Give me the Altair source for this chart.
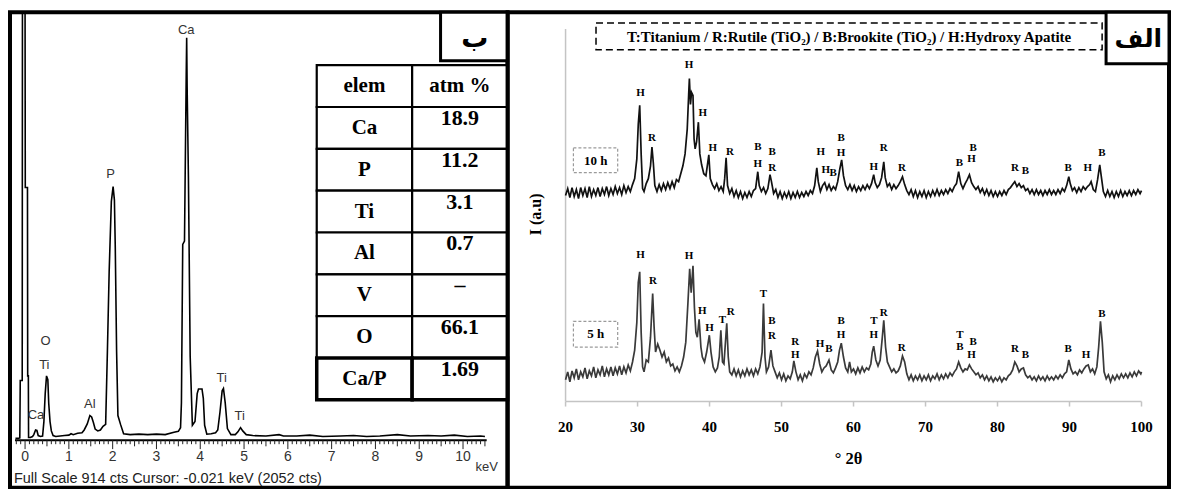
import altair as alt
import pandas as pd

# ---------------- EDS spectrum (panel ب) ----------------
eds_kev = [-0.22, -0.16, -0.12, -0.11, -0.065, -0.06, 0.0, 0.005, 0.055, 0.06, 0.075, 0.08,
           0.12, 0.17, 0.2, 0.24, 0.27, 0.3, 0.35, 0.4, 0.43, 0.46, 0.49, 0.52, 0.54, 0.57, 0.6, 0.64,
           0.7, 0.8, 0.9, 1.0, 1.05, 1.1, 1.2, 1.3, 1.35, 1.42, 1.48, 1.52, 1.56, 1.6, 1.66, 1.72, 1.78,
           1.84, 1.88, 1.92, 1.97, 2.01, 2.04, 2.06, 2.09, 2.12, 2.18, 2.25, 2.4, 2.6, 2.8, 3.0, 3.2,
           3.4, 3.5, 3.55, 3.57, 3.6, 3.64, 3.68, 3.69, 3.70, 3.73, 3.77, 3.82, 3.88, 3.93, 3.96, 4.04,
           4.07, 4.1, 4.15, 4.25, 4.35, 4.4, 4.45, 4.5, 4.53, 4.57, 4.62, 4.7, 4.8, 4.86, 4.92, 4.97,
           5.05, 5.2, 5.5, 5.8, 5.9, 6.2, 6.5, 6.8, 7.2, 7.5, 7.8, 8.1, 8.5, 8.8, 9.2, 9.5, 9.8, 10.1, 10.4, 10.5]
eds_cts = [4, 4, 5, 128, 128, 2052, 2052, 542, 542, 138, 138, 6,
           6, 8, 12, 22, 21, 10, 8, 9, 40, 100, 138, 130, 80, 40, 20, 10,
           8, 9, 10, 11, 14, 12, 15, 16, 22, 35, 53, 50, 38, 24, 20, 22, 30,
           34, 191, 361, 512, 544, 515, 412, 191, 53, 34, 14, 12, 13, 12, 13, 12,
           17, 19, 27, 80, 420, 427, 787, 863, 760, 563, 180, 32, 40, 100, 110, 110,
           90, 32, 13, 14, 16, 22, 60, 106, 111, 80, 25, 12, 12, 18, 27, 20,
           12, 10, 9, 12, 9, 9, 11, 8, 9, 10, 8, 9, 12, 9, 10, 9, 11, 8, 9, 8]

eds_major_ticks = [0, 1, 2, 3, 4, 5, 6, 7, 8, 9, 10]
eds_peak_text = ["Ca", "P", "O", "Ti", "Ca", "Al", "Ti", "Ti"]
eds_peak_kev = [3.68, 1.95, 0.47, 0.44, 0.25, 1.48, 4.49, 4.90]
eds_peak_cts = [880, 570, 213, 162, 55, 77, 134, 51]
eds_footer = "Full Scale 914 cts  Cursor: -0.021 keV (2052 cts)"

# ---------------- composition table ----------------
table_head = ["elem", "atm %"]
table_elem = ["Ca", "P", "Ti", "Al", "V", "O", "Ca/P"]
table_atm = ["18.9", "11.2", "3.1", "0.7", "–", "66.1", "1.69"]

# ---------------- XRD patterns (panel الف) ----------------
theta_10h = [20.0, 20.3, 20.6, 20.9, 21.2, 21.5, 21.8, 22.1, 22.4, 22.7, 23.0, 23.3, 23.6, 23.9, 24.2, 24.5, 24.8, 25.1, 25.4, 25.7,
             26.0, 26.3, 26.6, 26.9, 27.2, 27.5, 27.8, 28.1, 28.4, 28.7, 29.0, 29.3, 29.6, 29.9, 30.1, 30.3, 30.5, 30.7, 30.9, 31.2,
             31.5, 31.8, 32.0, 32.2, 32.4, 32.7, 33.0, 33.3, 33.6, 33.9, 34.2, 34.5, 34.8, 35.1, 35.4, 35.7, 36.0, 36.3, 36.6, 36.9,
             37.1, 37.2, 37.35, 37.5, 37.7, 37.85, 38.0, 38.2, 38.45, 38.65, 38.9, 39.2, 39.5, 39.9, 40.1, 40.4, 40.7, 41.0, 41.3, 41.6,
             41.9, 42.1, 42.3, 42.5, 42.8, 43.1, 43.4, 43.7, 44.0, 44.3, 44.6, 44.9, 45.2, 45.5, 45.8, 46.1, 46.4, 46.7, 46.9, 47.2,
             47.5, 47.8, 48.1, 48.4, 48.6, 48.9, 49.2, 49.5, 49.8, 50.1, 50.4, 50.7, 51.0, 51.3, 51.6, 51.9, 52.2, 52.5, 52.8, 53.1,
             53.4, 53.7, 54.0, 54.3, 54.6, 54.9, 55.1, 55.4, 55.7, 56.0, 56.3, 56.6, 56.9, 57.2, 57.5, 57.8, 58.1, 58.35, 58.6, 58.9,
             59.2, 59.5, 59.8, 60.1, 60.4, 60.7, 61.0, 61.3, 61.6, 61.9, 62.2, 62.5, 62.8, 63.0, 63.3, 63.6, 63.9, 64.2, 64.4, 64.7,
             65.0, 65.3, 65.6, 65.9, 66.2, 66.5, 66.8, 67.1, 67.4, 67.7, 68.0, 68.3, 68.6, 68.9, 69.2, 69.5, 69.8, 70.1, 70.4, 70.7,
             71.0, 71.3, 71.6, 71.9, 72.2, 72.5, 72.8, 73.1, 73.4, 73.7, 74.0, 74.3, 74.6, 74.9, 75.2, 75.5, 75.8, 76.1, 76.4, 76.7,
             77.0, 77.3, 77.6, 77.9, 78.2, 78.5, 78.8, 79.1, 79.4, 79.7, 80.0, 80.3, 80.6, 80.9, 81.2, 81.5, 81.8, 82.1, 82.4, 82.7,
             83.0, 83.3, 83.6, 83.9, 84.2, 84.5, 84.8, 85.1, 85.4, 85.7, 86.0, 86.3, 86.6, 86.9, 87.2, 87.5, 87.8, 88.1, 88.4, 88.7,
             89.0, 89.3, 89.6, 89.9, 90.1, 90.4, 90.7, 91.0, 91.3, 91.6, 91.9, 92.2, 92.5, 92.8, 93.0, 93.3, 93.6, 93.9, 94.2, 94.4,
             94.7, 95.0, 95.3, 95.6, 95.9, 96.2, 96.5, 96.8, 97.1, 97.4, 97.7, 98.0, 98.3, 98.6, 98.9, 99.2, 99.5, 99.8, 100.0]
int_10h = [208, 215, 206, 216, 207, 214, 205, 216, 208, 215, 206, 217, 207, 214, 208, 216, 207, 215, 209, 217,
           208, 215, 209, 217, 210, 216, 209, 218, 211, 217, 212, 219, 225, 245, 280, 299, 250, 215, 212, 220,
           225, 238, 257, 240, 218, 212, 219, 213, 220, 214, 221, 215, 222, 216, 224, 222, 230, 238, 250, 275,
           310, 326, 300, 312, 309, 265, 255, 262, 282, 250, 239, 230, 228, 249, 225, 219, 215, 220, 213, 217,
           212, 225, 246, 218, 210, 215, 207, 213, 206, 212, 205, 211, 206, 212, 207, 213, 215, 232, 218, 212,
           216, 210, 215, 229, 222, 210, 214, 206, 212, 205, 211, 206, 212, 205, 211, 206, 212, 206, 211, 207,
           212, 208, 213, 210, 218, 236, 222, 212, 218, 221, 214, 219, 213, 217, 214, 222, 235, 244, 228, 218,
           214, 219, 213, 218, 212, 217, 213, 218, 214, 219, 215, 220, 229, 221, 216, 219, 226, 242, 226, 217,
           220, 214, 219, 215, 218, 222, 227, 219, 213, 209, 214, 207, 213, 206, 212, 207, 213, 206, 212, 207,
           213, 208, 214, 208, 213, 209, 214, 210, 215, 212, 217, 220, 232, 220, 215, 220, 224, 229, 221, 217,
           214, 217, 211, 215, 209, 214, 208, 213, 207, 212, 207, 212, 208, 213, 209, 214, 216, 219, 222, 217,
           220, 216, 218, 213, 215, 210, 214, 209, 214, 209, 213, 208, 213, 209, 214, 209, 213, 209, 214, 210,
           215, 212, 218, 227, 220, 213, 216, 211, 216, 212, 217, 214, 217, 219, 222, 214, 212, 224, 239, 228,
           212, 207, 213, 207, 212, 206, 212, 207, 213, 207, 212, 208, 213, 208, 213, 209, 214, 210, 213]

theta_5h = [20.0, 20.3, 20.6, 20.9, 21.2, 21.5, 21.8, 22.1, 22.4, 22.7, 23.0, 23.3, 23.6, 23.9, 24.2, 24.5, 24.8, 25.1, 25.4, 25.7,
            26.0, 26.3, 26.6, 26.9, 27.2, 27.5, 27.8, 28.1, 28.4, 28.7, 29.0, 29.3, 29.6, 29.9, 30.1, 30.3, 30.5, 30.7, 30.9, 31.2,
            31.5, 31.8, 32.1, 32.3, 32.5, 32.8, 33.1, 33.4, 33.7, 34.0, 34.3, 34.6, 34.9, 35.2, 35.5, 35.8, 36.1, 36.4, 36.7, 37.0,
            37.24, 37.45, 37.7, 37.9, 38.1, 38.3, 38.55, 38.8, 39.0, 39.3, 39.6, 39.97, 40.2, 40.5, 40.8, 41.1, 41.35, 41.57, 41.8, 42.0,
            42.39, 42.6, 42.8, 43.1, 43.4, 43.7, 44.0, 44.3, 44.6, 44.9, 45.2, 45.5, 45.8, 46.1, 46.4, 46.7, 47.0, 47.3, 47.49, 47.7,
            47.9, 48.2, 48.53, 48.8, 49.1, 49.4, 49.7, 50.0, 50.3, 50.6, 50.9, 51.2, 51.5, 51.71, 52.0, 52.3, 52.6, 52.9, 53.2, 53.5,
            53.8, 54.1, 54.4, 54.7, 55.0, 55.3, 55.6, 55.9, 56.2, 56.59, 56.9, 57.2, 57.5, 57.8, 58.05, 58.3, 58.6, 58.9, 59.2, 59.45,
            59.7, 60.0, 60.3, 60.6, 60.9, 61.2, 61.5, 61.8, 62.1, 62.4, 62.6, 62.8, 63.1, 63.4, 63.7, 64.0, 64.2, 64.45, 64.7, 65.0,
            65.3, 65.6, 65.9, 66.2, 66.5, 66.8, 67.1, 67.4, 67.7, 68.0, 68.3, 68.6, 68.9, 69.2, 69.5, 69.8, 70.1, 70.4, 70.7, 71.0,
            71.3, 71.6, 71.9, 72.2, 72.5, 72.8, 73.1, 73.4, 73.7, 74.0, 74.3, 74.6, 74.9, 75.2, 75.5, 75.8, 76.1, 76.4, 76.7, 77.0,
            77.3, 77.6, 77.9, 78.2, 78.5, 78.8, 79.1, 79.4, 79.7, 80.0, 80.3, 80.6, 80.9, 81.2, 81.5, 81.8, 82.1, 82.4, 82.7, 83.0,
            83.3, 83.6, 83.9, 84.2, 84.5, 84.8, 85.1, 85.4, 85.7, 86.0, 86.3, 86.6, 86.9, 87.2, 87.5, 87.8, 88.1, 88.4, 88.7, 89.0,
            89.3, 89.6, 89.9, 90.2, 90.5, 90.8, 91.1, 91.4, 91.7, 92.0, 92.3, 92.6, 92.9, 93.2, 93.5, 93.8, 94.05, 94.3, 94.55, 94.8,
            95.1, 95.4, 95.7, 96.0, 96.3, 96.6, 96.9, 97.2, 97.5, 97.8, 98.1, 98.4, 98.7, 99.0, 99.3, 99.6, 99.9, 100.0]
int_5h = [22, 30, 20, 31, 24, 33, 22, 30, 25, 34, 23, 31, 26, 35, 24, 32, 27, 36, 25, 33,
          27, 35, 26, 34, 28, 36, 27, 35, 29, 37, 31, 40, 52, 80, 120, 131, 70, 35, 30, 42,
          40, 65, 109, 75, 50, 58, 52, 45, 50, 40, 44, 36, 38, 31, 35, 30, 36, 45, 60, 100,
          134, 110, 137, 95, 70, 65, 83, 55, 45, 40, 50, 67, 50, 35, 30, 34, 45, 72, 40, 38,
          79, 45, 30, 27, 33, 26, 32, 25, 31, 26, 33, 27, 32, 26, 33, 28, 35, 50, 99, 45,
          30, 35, 52, 36, 30, 24, 29, 22, 28, 21, 26, 23, 30, 41, 30, 22, 27, 21, 28, 24,
          30, 27, 34, 45, 51, 38, 30, 34, 36, 42, 32, 29, 34, 40, 52, 59, 45, 34, 30, 40,
          30, 33, 28, 34, 29, 35, 30, 34, 32, 38, 50, 56, 42, 36, 42, 65, 82, 55, 40, 35,
          30, 33, 29, 31, 36, 46, 40, 28, 22, 27, 21, 26, 22, 27, 21, 26, 22, 27, 21, 26,
          23, 28, 22, 27, 23, 28, 24, 29, 26, 30, 33, 40, 34, 30, 33, 32, 37, 33, 30, 27,
          29, 24, 27, 22, 26, 21, 25, 20, 24, 21, 25, 20, 24, 22, 26, 28, 32, 40, 36, 30,
          33, 34, 27, 24, 26, 22, 25, 21, 26, 22, 25, 21, 26, 22, 25, 22, 26, 23, 27, 24,
          28, 30, 42, 33, 28, 30, 27, 32, 29, 33, 36, 37, 30, 33, 28, 35, 55, 81, 60, 30,
          23, 27, 20, 26, 22, 27, 23, 28, 24, 28, 24, 29, 25, 30, 26, 31, 28, 30]

lab10_txt = ["H", "R", "H", "H", "H", "R", "B", "H", "B", "R", "H", "H", "B", "B", "H", "H", "R", "R", "B", "B", "H", "R", "B", "B", "H", "B"]
lab10_t = [30.42, 32.01, 37.16, 39.07, 40.43, 42.85, 46.71, 46.71, 48.71, 48.71, 55.45, 56.13, 57.17, 58.27, 58.27, 62.82, 64.19, 66.73, 74.70, 76.6, 76.4, 82.43, 83.89, 89.80, 92.53, 94.49]
lab10_i = [311, 266, 340, 291, 256, 252, 257, 240, 252, 236, 252, 234, 231, 266, 251, 237, 256, 236, 241, 256, 245, 236, 233, 236, 236, 251]

lab5_txt = ["H", "R", "H", "H", "H", "T", "R", "T", "B", "R", "R", "H", "H", "B", "B", "H", "T", "H", "R", "R", "T", "B", "B", "H", "R", "B", "B", "H", "B"]
lab5_t = [30.42, 32.15, 37.16, 38.98, 39.98, 41.80, 42.94, 47.49, 48.67, 48.67, 51.90, 51.90, 55.36, 56.59, 58.27, 58.27, 62.82, 62.82, 64.19, 66.69, 74.79, 74.79, 76.6, 76.4, 82.43, 83.89, 89.80, 92.31, 94.49]
lab5_i = [148, 122, 147, 91, 74, 82, 90, 109, 81, 66, 60, 47, 58, 53, 81, 67, 81, 67, 89, 54, 67, 55, 60, 47, 53, 47, 53, 47, 88]

xrd_ticks = [20, 30, 40, 50, 60, 70, 80, 90, 100]
legend_text = "T:Titanium / R:Rutile (TiO\u2082) / B:Brookite (TiO\u2082) / H:Hydroxy Apatite"
series_names = ["10 h", "5 h"]

# ---------------- styling ----------------
SERIF = "Liberation Serif"
SANS = "Liberation Sans"
ARABIC = "DejaVu Sans"
W1, W2, H = 498, 662, 476

# ================= LEFT PANEL : EDS =================
kx = alt.Scale(domain=[-0.344, 11.017], nice=False, zero=False)
ky = alt.Scale(domain=[-102, 918], nice=False, zero=False, clamp=True)
X = lambda f: alt.X(f, scale=kx, axis=None)
Y = lambda f: alt.Y(f, scale=ky, axis=None)

eds_df = pd.DataFrame({"kev": eds_kev, "cts": eds_cts})
spectrum = alt.Chart(eds_df).mark_line(color="black", strokeWidth=1.6, clip=True).encode(
    x=X("kev:Q"), y=Y("cts:Q"))

axis_line = alt.Chart(pd.DataFrame({"a": [-0.23], "b": [10.54], "y": [0]})).mark_rule(
    color="black", strokeWidth=2).encode(x=X("a:Q"), x2="b:Q", y=Y("y:Q"))

minor = [round(-0.2 + 0.1 * i, 1) for i in range(108)]
tick_df = pd.DataFrame({"x": minor,
                        "y2": [-19 if abs(v - round(v)) < 1e-6 else (-13 if abs(v * 2 - round(v * 2)) < 1e-6 else -8.5) for v in minor],
                        "y": [0] * len(minor)})
ticks = alt.Chart(tick_df).mark_rule(color="#222", strokeWidth=1).encode(
    x=X("x:Q"), y=Y("y:Q"), y2="y2:Q")

tick_lab = alt.Chart(pd.DataFrame({"x": eds_major_ticks, "y": [-36] * len(eds_major_ticks)})).mark_text(
    font=SANS, fontSize=14, color="#333").encode(x=X("x:Q"), y=Y("y:Q"), text="x:Q")

kev_lab = alt.Chart(pd.DataFrame({"x": [10.54], "y": [-57], "t": ["keV"]})).mark_text(
    font=SANS, fontSize=13, color="#333").encode(x=X("x:Q"), y=Y("y:Q"), text="t:N")

footer = alt.Chart(pd.DataFrame({"x": [-0.254], "y": [-83], "t": [eds_footer]})).mark_text(
    font=SANS, fontSize=14.5, color="#222", align="left").encode(x=X("x:Q"), y=Y("y:Q"), text="t:N")

peak_lab = alt.Chart(pd.DataFrame({"x": eds_peak_kev, "y": eds_peak_cts, "t": eds_peak_text})).mark_text(
    font=SANS, fontSize=13, color="#333").encode(x=X("x:Q"), y=Y("y:Q"), text="t:N")

b_box = alt.Chart(pd.DataFrame({"a": [9.487], "b": [11.017], "c": [814], "d": [918]})).mark_rect(
    fill="white", stroke="black", strokeWidth=3).encode(x=X("a:Q"), x2="b:Q", y=Y("c:Q"), y2="d:Q")
b_txt = alt.Chart(pd.DataFrame({"x": [10.27], "y": [860], "t": ["ب"]})).mark_text(
    font=ARABIC, fontSize=27, fontWeight="bold", color="black").encode(x=X("x:Q"), y=Y("y:Q"), text="t:N")

eds_group = alt.layer(spectrum, axis_line, ticks, tick_lab, kev_lab, footer, peak_lab, b_box, b_txt)

# table
row_ids = [str(i) for i in range(len(table_elem) + 1)]
cells = []
for i, (a, b) in enumerate(zip([table_head[0]] + table_elem, [table_head[1]] + table_atm)):
    kind = "head" if i == 0 else "body"
    cells.append({"row": str(i), "col": "c1", "t": a, "kind": kind, "last": i == len(table_elem)})
    cells.append({"row": str(i), "col": "c2", "t": b, "kind": kind, "last": i == len(table_elem)})
cell_df = pd.DataFrame(cells)
tx = alt.X("col:N", scale=alt.Scale(domain=["c1", "c2"], range=[307, 498], paddingInner=0, paddingOuter=0), axis=None)
ty = alt.Y("row:N", scale=alt.Scale(domain=row_ids, range=[53, 388], paddingInner=0, paddingOuter=0), axis=None)
cell_rect = alt.Chart(cell_df).mark_rect(fill="white", stroke="black").encode(
    x=tx, y=ty,
    strokeWidth=alt.condition("datum.last", alt.value(3.5), alt.value(2.2)))
head_txt = alt.Chart(cell_df).transform_filter("datum.kind == 'head'").mark_text(
    font=SERIF, fontWeight="bold", fontSize=21, color="black").encode(x=tx, y=ty, text="t:N")
elem_txt = alt.Chart(cell_df).transform_filter("datum.kind == 'body' && datum.col == 'c1'").mark_text(
    font=SERIF, fontWeight="bold", fontSize=21, color="black").encode(x=tx, y=ty, text="t:N")
val_txt = alt.Chart(cell_df).transform_filter("datum.kind == 'body' && datum.col == 'c2'").mark_text(
    font=SERIF, fontWeight="bold", fontSize=22, color="black", dy=-10).encode(x=tx, y=ty, text="t:N")
table_group = alt.layer(cell_rect, head_txt, elem_txt, val_txt)

left = alt.layer(eds_group, table_group).resolve_scale(x="independent", y="independent").properties(
    width=W1, height=H)

# ================= RIGHT PANEL : XRD =================
rx = alt.Scale(domain=[11.945, 103.82], nice=False, zero=False)
ry = alt.Scale(domain=[-87, 393], nice=False, zero=False)
XR = lambda f: alt.X(f, scale=rx, axis=None)
YR = lambda f: alt.Y(f, scale=ry, axis=None)

xrd_df = pd.concat([
    pd.DataFrame({"t": theta_10h, "i": int_10h, "s": series_names[0]}),
    pd.DataFrame({"t": theta_5h, "i": int_5h, "s": series_names[1]}),
])
xrd_lines = alt.Chart(xrd_df).mark_line(strokeWidth=1.7).encode(
    x=XR("t:Q"), y=YR("i:Q"), detail="s:N",
    color=alt.Color("s:N", scale=alt.Scale(domain=series_names, range=["#111111", "#3a3a3a"]), legend=None))

lab_df = pd.concat([
    pd.DataFrame({"t": lab10_t, "i": lab10_i, "txt": lab10_txt}),
    pd.DataFrame({"t": lab5_t, "i": lab5_i, "txt": lab5_txt}),
])
xrd_labels = alt.Chart(lab_df).mark_text(font=SERIF, fontWeight="bold", fontSize=11, color="black").encode(
    x=XR("t:Q"), y=YR("i:Q"), text="txt:N")

xaxis_line = alt.Chart(pd.DataFrame({"a": [20], "b": [100], "y": [0]})).mark_rule(
    color="#c4c4c4", strokeWidth=1.5).encode(x=XR("a:Q"), x2="b:Q", y=YR("y:Q"))
yaxis_line = alt.Chart(pd.DataFrame({"x": [20], "a": [0], "b": [376]})).mark_rule(
    color="#c4c4c4", strokeWidth=1.5).encode(x=XR("x:Q"), y=YR("a:Q"), y2="b:Q")
xr_ticks = alt.Chart(pd.DataFrame({"x": xrd_ticks, "a": [0] * 9, "b": [-5] * 9})).mark_rule(
    color="#c4c4c4", strokeWidth=1.5).encode(x=XR("x:Q"), y=YR("a:Q"), y2="b:Q")
xr_tlab = alt.Chart(pd.DataFrame({"x": xrd_ticks, "y": [-26] * 9})).mark_text(
    font=SERIF, fontWeight="bold", fontSize=15, color="black").encode(x=XR("x:Q"), y=YR("y:Q"), text="x:Q")
x_title = alt.Chart(pd.DataFrame({"x": [59.3], "y": [-58], "t": ["\u00b0 2\u03b8"]})).mark_text(
    font=SERIF, fontWeight="bold", fontSize=16.5, color="black").encode(x=XR("x:Q"), y=YR("y:Q"), text="t:N")
y_title = alt.Chart(pd.DataFrame({"x": [15.9], "y": [189], "t": ["I (a.u)"]})).mark_text(
    font=SERIF, fontWeight="bold", fontSize=16, color="black", angle=270).encode(x=XR("x:Q"), y=YR("y:Q"), text="t:N")

leg_box = alt.Chart(pd.DataFrame({"a": [24.23], "b": [94.53], "c": [355], "d": [382]})).mark_rect(
    fill="white", stroke="black", strokeWidth=1.5, strokeDash=[7, 4]).encode(x=XR("a:Q"), x2="b:Q", y=YR("c:Q"), y2="d:Q")
leg_txt = alt.Chart(pd.DataFrame({"x": [59.38], "y": [368], "t": [legend_text]})).mark_text(
    font=SERIF, fontWeight="bold", fontSize=15, color="black").encode(x=XR("x:Q"), y=YR("y:Q"), text="t:N")

s_box = alt.Chart(pd.DataFrame({"a": [21.09, 21.09], "b": [27.24, 27.24], "c": [231, 55], "d": [256, 81]})).mark_rect(
    fill="white", stroke="#9a9a9a", strokeWidth=1.2, strokeDash=[3, 2]).encode(x=XR("a:Q"), x2="b:Q", y=YR("c:Q"), y2="d:Q")
s_txt = alt.Chart(pd.DataFrame({"x": [24.2, 24.2], "y": [243, 68], "t": series_names})).mark_text(
    font=SERIF, fontWeight="bold", fontSize=13, color="black").encode(x=XR("x:Q"), y=YR("y:Q"), text="t:N")

alef_box = alt.Chart(pd.DataFrame({"a": [95.08], "b": [103.82], "c": [341], "d": [393]})).mark_rect(
    fill="white", stroke="black", strokeWidth=3).encode(x=XR("a:Q"), x2="b:Q", y=YR("c:Q"), y2="d:Q")
alef_txt = alt.Chart(pd.DataFrame({"x": [99.55], "y": [366], "t": ["الف"]})).mark_text(
    font=ARABIC, fontSize=25, fontWeight="bold", color="black").encode(x=XR("x:Q"), y=YR("y:Q"), text="t:N")

right = alt.layer(xaxis_line, yaxis_line, xr_ticks, xr_tlab, x_title, y_title, s_box, xrd_lines,
                  xrd_labels, s_txt, leg_box, leg_txt, alef_box, alef_txt).properties(width=W2, height=H)

chart = alt.hconcat(left, right, spacing=0, bounds="flush").properties(padding=0).configure_view(
    stroke="black", strokeWidth=4)

chart.save("out.html", embed_options={"renderer": "svg", "actions": False})
